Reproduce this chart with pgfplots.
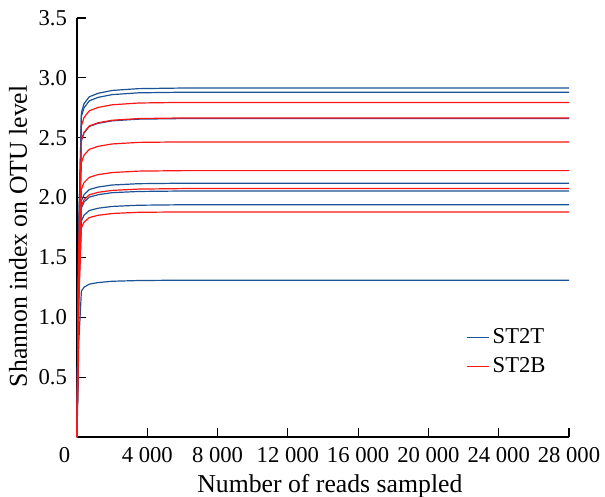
\documentclass[border=0pt]{standalone}
\usepackage{pgfplots}
\pgfplotsset{compat=1.18}
\usepackage{fontspec}
\setmainfont{Liberation Serif}
\definecolor{tblue}{RGB}{28,82,150}
\definecolor{bred}{RGB}{255,20,20}
\begin{document}
\begin{tikzpicture}
\begin{axis}[
    scale only axis,
    width=369pt, height=314.25pt,
    font=\fontsize{17}{19}\selectfont,
    axis x line=bottom, axis y line=left,
    axis line style={-, line width=1.1pt},
    xmin=0, xmax=28000, ymin=0, ymax=3.5,
    scaled x ticks=false,
    xtick={0,4000,8000,12000,16000,20000,24000,28000},
    xticklabels={\makebox[0pt][r]{0\hspace{5pt}},4 000,8 000,12 000,16 000,20 000,24 000,28 000},
    ytick={0.5,1,1.5,2,2.5,3,3.5},
    yticklabels={0.5,1.0,1.5,2.0,2.5,3.0,3.5},
    major tick length=7pt,
    tick style={line width=0.8pt, black},
    tick align=inside,
    xticklabel style={yshift=-4pt},
    yticklabel style={xshift=-4pt},
    xlabel={Number of reads sampled},
    ylabel={Shannon index on OTU level},
    label style={font=\fontsize{19.3}{21}\selectfont},
    xlabel style={at={(axis description cs:0.514,-0.077)}, anchor=north},
    ylabel style={at={(axis description cs:-0.092,0.479)}, anchor=south},
    legend style={draw=none, fill=none, at={(0.782,0.272)}, anchor=north west,
        font=\fontsize{17}{19}\selectfont, row sep=5pt},
    legend cell align=left,
    legend image post style={line width=0.9pt},
    every axis plot/.append style={line width=0.9pt},
    clip=false,
]
\coordinate (O) at (rel axis cs:0,0);
% ST2T
\addplot[tblue] coordinates {(0,0) (100,1.749) (250,2.711) (400,2.784) (700,2.842) (1200,2.871) (2000,2.895) (3500,2.910) (6000,2.915) (28000,2.915)};
\addlegendentry{ST2T}
\addplot[bred] coordinates {(0,0) (100,1.677) (250,2.599) (400,2.669) (700,2.725) (1200,2.753) (2000,2.775) (3500,2.790) (6000,2.795) (28000,2.795)};
\addlegendentry{ST2B}
\addplot[tblue, forget plot] coordinates {(0,0) (100,1.728) (250,2.678) (400,2.750) (700,2.808) (1200,2.837) (2000,2.860) (3500,2.875) (6000,2.88) (28000,2.88)};
\addplot[tblue, forget plot] coordinates {(0,0) (100,1.596) (250,2.474) (400,2.540) (700,2.594) (1200,2.620) (2000,2.641) (3500,2.655) (6000,2.66) (28000,2.66)};
\addplot[tblue, forget plot] coordinates {(0,0) (100,1.272) (250,1.972) (400,2.025) (700,2.067) (1200,2.088) (2000,2.105) (3500,2.116) (6000,2.12) (28000,2.12)};
\addplot[tblue, forget plot] coordinates {(0,0) (100,1.233) (250,1.911) (400,1.963) (700,2.004) (1200,2.024) (2000,2.041) (3500,2.051) (6000,2.055) (28000,2.055)};
\addplot[tblue, forget plot] coordinates {(0,0) (100,1.164) (250,1.804) (400,1.853) (700,1.892) (1200,1.911) (2000,1.926) (3500,1.936) (6000,1.94) (28000,1.94)};
\addplot[tblue, forget plot] coordinates {(0,0) (100,0.786) (250,1.218) (400,1.251) (700,1.277) (1200,1.290) (2000,1.301) (3500,1.307) (6000,1.31) (28000,1.31)};
% ST2B
\addplot[bred, forget plot] coordinates {(0,0) (100,1.599) (250,2.478) (400,2.545) (700,2.598) (1200,2.625) (2000,2.646) (3500,2.660) (6000,2.665) (28000,2.665)};
\addplot[bred, forget plot] coordinates {(0,0) (100,1.479) (250,2.292) (400,2.354) (700,2.403) (1200,2.428) (2000,2.448) (3500,2.461) (6000,2.465) (28000,2.465)};
\addplot[bred, forget plot] coordinates {(0,0) (100,1.335) (250,2.069) (400,2.125) (700,2.169) (1200,2.192) (2000,2.209) (3500,2.221) (6000,2.225) (28000,2.225)};
\addplot[bred, forget plot] coordinates {(0,0) (100,1.245) (250,1.930) (400,1.982) (700,2.023) (1200,2.044) (2000,2.060) (3500,2.071) (6000,2.075) (28000,2.075)};
\addplot[bred, forget plot] coordinates {(0,0) (100,1.128) (250,1.748) (400,1.795) (700,1.833) (1200,1.852) (2000,1.867) (3500,1.877) (6000,1.88) (28000,1.88)};
\end{axis}
\pgfresetboundingbox
\path[use as bounding box] (O) ++(-57.75pt,-44.25pt) rectangle ++(453.75pt,372pt);
\end{tikzpicture}
\end{document}
